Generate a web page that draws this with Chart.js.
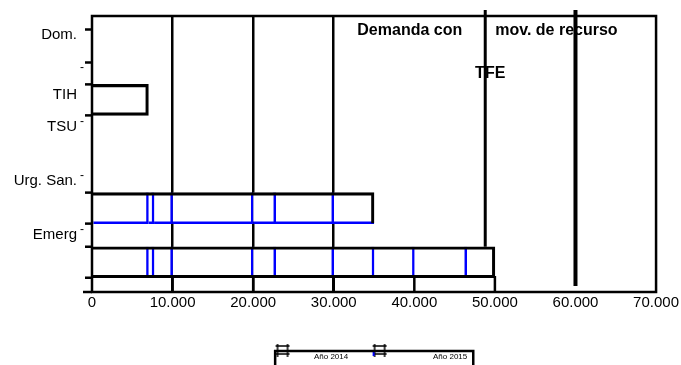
<!DOCTYPE html>
<html>
<head>
<meta charset="utf-8">
<script src="https://cdn.jsdelivr.net/npm/chart.js@4.4.1/dist/chart.umd.min.js"></script>
<style>
    html, body { margin: 0; padding: 0; background: #fff; }
    canvas { display: block; }
</style>
</head>
<body>
<canvas id="chart" width="681" height="365"></canvas>
<script>
// 1. Data
// the row axis is split into thin slots so labels and bars can sit where the original has them
const slotCount = 51;
const rowLabels = { 3: "Dom.", 14: "TIH", 20: "TSU", 30: "Urg. San.", 40: "Emerg" };
const minorLabels = { 9: "-", 19: "-", 29: "-", 39: "-" };
const minorTickSlots = [2, 8];

// bars: slot, total length and the blue marks inside them
const barSlots = [15, 35, 45];
const barTotals = [7000, 35000, 50000];
const barMarks = [
    [],
    [7000, 7700, 10000, 20000, 22800, 30000],
    [7000, 7700, 10000, 20000, 22800, 30000, 35000, 40000, 46500]
];

const xMin = 0;
const xMax = 70000;
const xStep = 10000;
const gridValues = [10000, 20000, 30000];
const refLines = [48800, 60000];
const refNotes = ["Demanda con", "mov. de recurso", "TFE"];
const legendNames = ["Año 2014", "Año 2015"];

// 2. Helpers
const FONT = '"Liberation Sans", Arial, sans-serif';
Chart.defaults.font.family = FONT;
Chart.defaults.color = "#000";

function withDots(v) {
    return String(v).replace(/\B(?=(\d{3})+(?!\d))/g, ".");
}

function slotArray(map) {
    return Array.from({ length: slotCount }, (_, i) => map[i] || "");
}

// legend marker drawn into a small canvas, used as the point style
function legendMarker(offset, withDot) {
    const c = document.createElement("canvas");
    c.width = 80;
    c.height = 32;
    const g = c.getContext("2d");
    g.strokeStyle = "#000";
    g.lineWidth = 1.5;
    g.beginPath();
    g.moveTo(offset + 2, 3); g.lineTo(offset + 2, 16);
    g.moveTo(offset + 12, 3); g.lineTo(offset + 12, 16);
    g.moveTo(offset, 5); g.lineTo(offset + 14, 5);
    g.moveTo(offset, 13); g.lineTo(offset + 14, 13);
    g.stroke();
    if (withDot) {
        g.fillStyle = "#0000ff";
        g.fillRect(offset, 11, 2, 4);
    }
    return c;
}
const legendMarkers = [legendMarker(41, false), legendMarker(19, true)];

// 3. Datasets
const points = barMarks.map((m, i) => [0, ...m, barTotals[i]]);
const segCount = Math.max(...points.map(p => p.length - 1));

const outlineData = new Array(slotCount).fill(null);
barSlots.forEach((s, i) => { outlineData[s] = barTotals[i]; });

// outline uses a hidden twin of the value axis, so it is stacked on its own
const datasets = [{
    label: "total",
    data: outlineData,
    xAxisID: "x2",
    yAxisID: "y",
    stack: "seg",
    backgroundColor: "rgba(0,0,0,0)",
    borderColor: "#000",
    borderWidth: ctx => ({
        top: 2.5, right: 2.5, left: 0,
        bottom: barSlots.indexOf(ctx.dataIndex) === 1 ? 0 : 2.5
    })
}];

for (let j = 0; j < segCount; j++) {
    const data = new Array(slotCount).fill(null);
    points.forEach((p, i) => {
        if (j < p.length - 1) data[barSlots[i]] = p[j + 1] - p[j];
    });
    datasets.push({
        label: "seg" + j,
        data: data,
        xAxisID: "x",
        yAxisID: "y",
        stack: "seg",
        backgroundColor: "#fff",
        borderColor: "#0000ff",
        borderWidth: ctx => {
            const i = barSlots.indexOf(ctx.dataIndex);
            const p = points[i] || [];
            return {
                top: 0, left: 0,
                right: j + 1 < p.length - 1 ? 2.5 : 0,
                bottom: i === 1 ? 2.5 : 0
            };
        }
    });
}

// 4. Frame, reference lines and notes
const framePlugin = {
    id: "frame",
    afterDatasetsDraw(chart) {
        const { ctx, chartArea: a, scales: { x } } = chart;
        const bars = chart.getDatasetMeta(0).data.filter((b, i) => outlineData[i] !== null);
        const line = (x1, y1, x2, y2) => {
            ctx.beginPath(); ctx.moveTo(x1, y1); ctx.lineTo(x2, y2); ctx.stroke();
        };
        ctx.save();
        ctx.strokeStyle = "#000";
        ctx.lineWidth = 2.5;
        ctx.strokeRect(a.left, a.top, a.right - a.left, a.bottom - a.top);
        line(a.left - 9, a.bottom, a.left, a.bottom);

        // stubs at bar edges
        bars.forEach(b => {
            line(a.left - 7, b.y - b.height / 2, a.left, b.y - b.height / 2);
            line(a.left - 7, b.y + b.height / 2, a.left, b.y + b.height / 2);
        });

        // inner ticks up to the longest bar
        const longest = Math.max(...barTotals);
        for (let v = xMin + xStep; v <= longest; v += xStep) {
            const px = x.getPixelForValue(v);
            line(px, a.bottom - 16, px, a.bottom);
        }

        // reference lines stop at the first bar that crosses them
        refLines.forEach((v, i) => {
            const px = x.getPixelForValue(v);
            let end = a.bottom - 6;
            bars.forEach(b => {
                if (b.x > px) end = Math.min(end, b.y - b.height / 2);
            });
            ctx.lineWidth = i === 0 ? 3 : 4;
            line(px, a.top - 6, px, end);
        });

        const tx = x.getPixelForValue(refLines[0]);
        ctx.fillStyle = "#000";
        ctx.font = "bold 16px " + FONT;
        ctx.textBaseline = "middle";
        ctx.textAlign = "right";
        ctx.fillText(refNotes[0], tx - 23, a.top + 15);
        ctx.textAlign = "left";
        ctx.fillText(refNotes[1], tx + 10, a.top + 15);
        ctx.textAlign = "center";
        ctx.fillText(refNotes[2], tx + 5, a.top + 58);
        ctx.restore();
    },
    afterDraw(chart) {
        const lg = chart.legend;
        if (!lg || !lg.legendHitBoxes.length) return;
        const hb = lg.legendHitBoxes;
        const left = hb[0].left + 36;
        const right = hb[hb.length - 1].left + hb[hb.length - 1].width + 6;
        const y = hb[0].top + hb[0].height / 2 - 6;
        const ctx = chart.ctx;
        ctx.save();
        ctx.strokeStyle = "#000";
        ctx.lineWidth = 2.5;
        ctx.beginPath();
        ctx.moveTo(left, chart.height + 2);
        ctx.lineTo(left, y);
        ctx.lineTo(right, y);
        ctx.lineTo(right, chart.height + 2);
        ctx.stroke();
        ctx.restore();
    }
};

// 5. Chart
new Chart(document.getElementById("chart"), {
    type: "bar",
    data: { datasets: datasets },
    plugins: [framePlugin],
    options: {
        indexAxis: "y",
        responsive: false,
        animation: false,
        events: [],
        devicePixelRatio: 1,
        layout: { padding: { left: 5, top: 16, right: -20.4, bottom: -6 } },
        datasets: { bar: { barThickness: 31, borderSkipped: false } },
        scales: {
            x: {
                type: "linear",
                min: xMin,
                max: xMax,
                stacked: true,
                ticks: {
                    stepSize: xStep,
                    autoSkip: false,
                    maxRotation: 0,
                    padding: 2,
                    font: { size: 15 },
                    callback: v => withDots(v)
                },
                grid: {
                    color: ctx => gridValues.includes(ctx.tick && ctx.tick.value) ? "#000" : "rgba(0,0,0,0)",
                    lineWidth: 2.5,
                    drawTicks: false
                },
                border: { display: false },
                afterFit: s => { s.height = 51; }
            },
            x2: {
                type: "linear",
                axis: "x",
                min: xMin,
                max: xMax,
                stacked: true,
                display: false
            },
            y: {
                type: "category",
                axis: "y",
                position: "left",
                labels: slotArray(minorLabels),
                offset: true,
                weight: 0,
                ticks: { autoSkip: false, padding: 1, font: { size: 12 } },
                grid: {
                    offset: false,
                    drawOnChartArea: false,
                    tickLength: 7,
                    tickWidth: 2.5,
                    tickColor: ctx => minorTickSlots.includes(ctx.index) ? "#000" : "rgba(0,0,0,0)"
                },
                border: { display: false },
                afterFit: s => { s.width = 12; }
            },
            yl: {
                type: "category",
                axis: "y",
                position: "left",
                labels: slotArray(rowLabels),
                offset: true,
                weight: 1,
                ticks: { autoSkip: false, padding: 3, font: { size: 15 } },
                grid: { display: false, drawTicks: false },
                border: { display: false },
                afterFit: s => { s.width = 75; }
            }
        },
        plugins: {
            tooltip: { enabled: false },
            legend: {
                position: "bottom",
                labels: {
                    usePointStyle: true,
                    pointStyleWidth: 70.8,
                    padding: 10,
                    font: { size: 8 },
                    generateLabels: () => legendNames.map((t, i) => ({
                        text: t,
                        pointStyle: legendMarkers[i],
                        fillStyle: "#fff",
                        strokeStyle: "#000",
                        lineWidth: 0,
                        hidden: false,
                        datasetIndex: i
                    }))
                }
            }
        }
    }
});
</script>
</body>
</html>
